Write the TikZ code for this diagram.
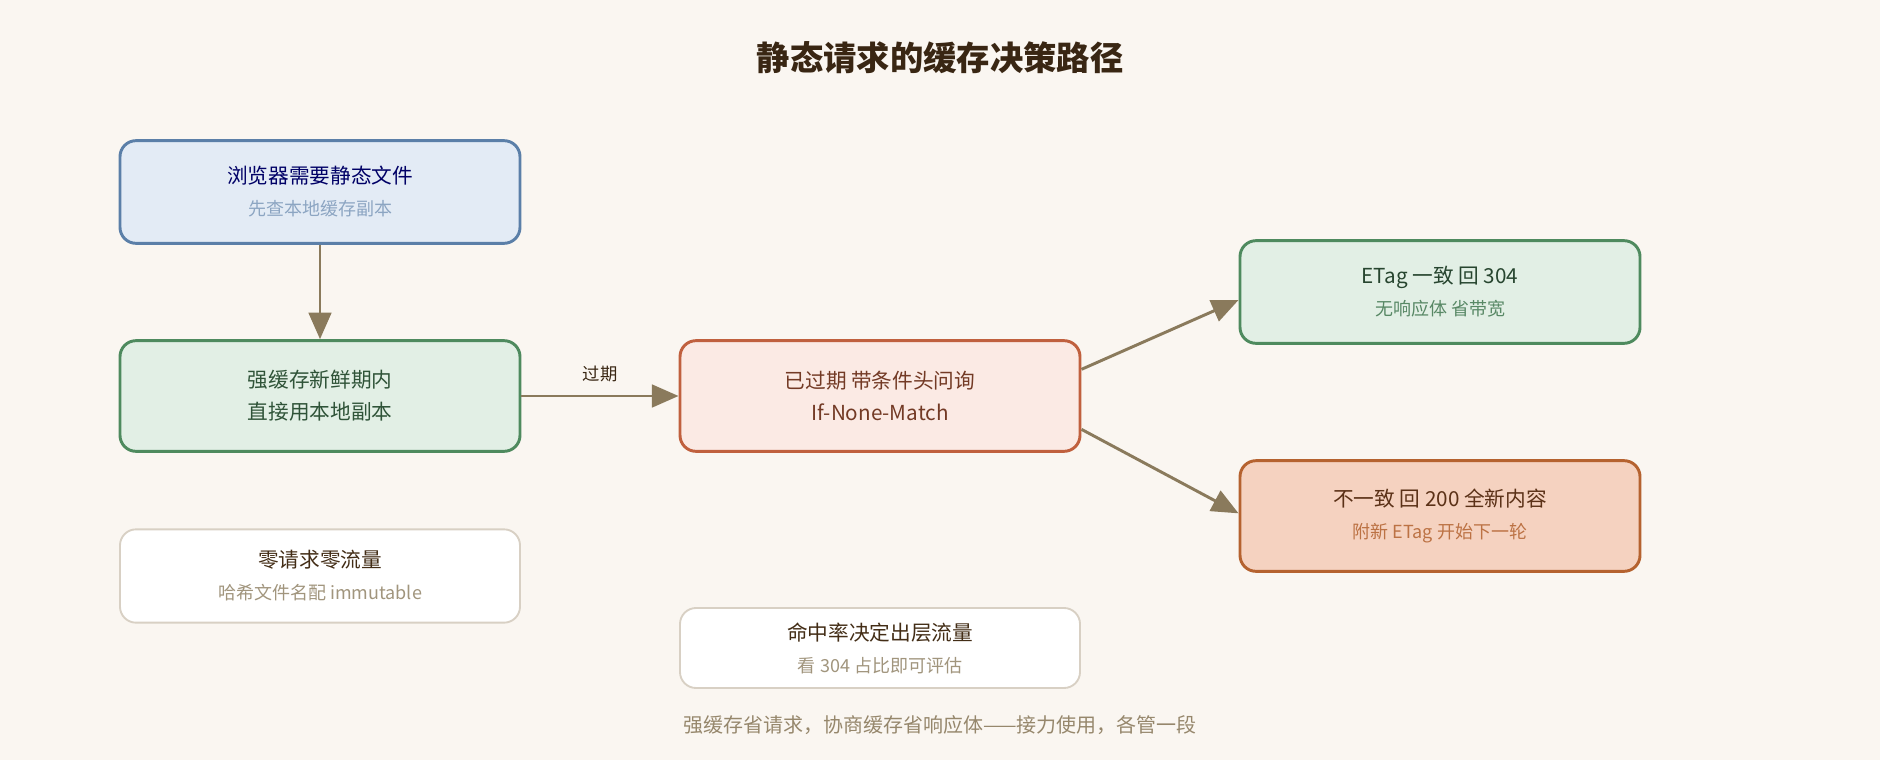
\documentclass[tikz,border=0pt]{standalone}
\usepackage{fontspec}
\setmainfont{Noto Sans CJK SC}
\usetikzlibrary{arrows.meta,positioning}
\definecolor{bgc}{HTML}{FAF6F1}
\definecolor{arr}{HTML}{8A7A5C}
\definecolor{bluef}{HTML}{E3EBF5}\definecolor{blued}{HTML}{5B7FA8}
\definecolor{greenf}{HTML}{E2EFE5}\definecolor{greend}{HTML}{4E8A5E}
\definecolor{redf}{HTML}{FBEAE4}\definecolor{redd}{HTML}{C0603E}
\definecolor{orf}{HTML}{F5D2C0}\definecolor{ord}{HTML}{B5622F}
\definecolor{grayd}{HTML}{D8D0C4}
\newcommand{\boxtext}[4]{\textcolor{#1}{#2}\\[5pt]{\fontsize{13.5pt}{16pt}\selectfont\textcolor{#3}{#4}}}
\tikzset{
  box/.style={rounded corners=12pt, line width=2.2pt, minimum width=300pt, align=center,
    font=\fontsize{15.5pt}{19pt}\selectfont},
  flow/.style={draw=arr, line width=2.2pt, -{Triangle[length=20pt,width=17pt]}}
}
\begin{document}
\begin{tikzpicture}[x=0.75pt,y=-0.75pt]
  \fill[bgc] (0,0) rectangle (1880,760);
  \node[font=\fontsize{25pt}{30pt}\selectfont\bfseries, text=black!70!brown] (title) at (940,58) {静态请求的缓存决策路径};
  % left column
  \node[box, fill=bluef, draw=blued, minimum height=77pt] (need) at (320,192)
    {\boxtext{blue!40!black}{浏览器需要静态文件}{blued!70}{先查本地缓存副本}};
  \node[box, fill=greenf, draw=greend, minimum height=83pt, text=greend!60!black] (fresh) at (320,396)
    {强缓存新鲜期内\\[5pt]直接用本地副本};
  \node[box, fill=white, draw=grayd, line width=1.4pt, minimum height=70pt] (zero) at (320,576)
    {\boxtext{black!65!brown}{零请求零流量}{arr!80}{哈希文件名配 immutable}};
  % middle column
  \node[box, fill=redf, draw=redd, minimum height=83pt, text=redd!60!black] (stale) at (880,396)
    {已过期 带条件头问询\\[5pt]If-None-Match};
  \node[box, fill=white, draw=grayd, line width=1.4pt, minimum height=60pt] (hit) at (880,648)
    {\boxtext{black!65!brown}{命中率决定出层流量}{arr!80}{看 304 占比即可评估}};
  % right column
  \node[box, fill=greenf, draw=greend, minimum height=77pt] (same) at (1440,292)
    {\boxtext{greend!50!black}{ETag 一致 回 304}{greend!80!gray}{无响应体 省带宽}};
  \node[box, fill=orf, draw=ord, minimum height=83pt] (diff) at (1440,516)
    {\boxtext{ord!50!black}{不一致 回 200 全新内容}{ord!90}{附新 ETag 开始下一轮}};
  \node[font=\fontsize{15pt}{18pt}\selectfont, text=arr!90] (note) at (940,725)
    {强缓存省请求，协商缓存省响应体——接力使用，各管一段};
  % connectors
  \draw[flow] (need) -- (fresh);
  \draw[flow] (fresh) -- node[above=6pt, font=\fontsize{13pt}{15pt}\selectfont, text=black!70!brown] (exp) {过期} (stale);
  \draw[flow] ([yshift=20pt]stale.east) -- ([yshift=-6pt]same.west);
  \draw[flow] ([yshift=-25pt]stale.east) -- ([yshift=2pt]diff.west);
\end{tikzpicture}
\end{document}
